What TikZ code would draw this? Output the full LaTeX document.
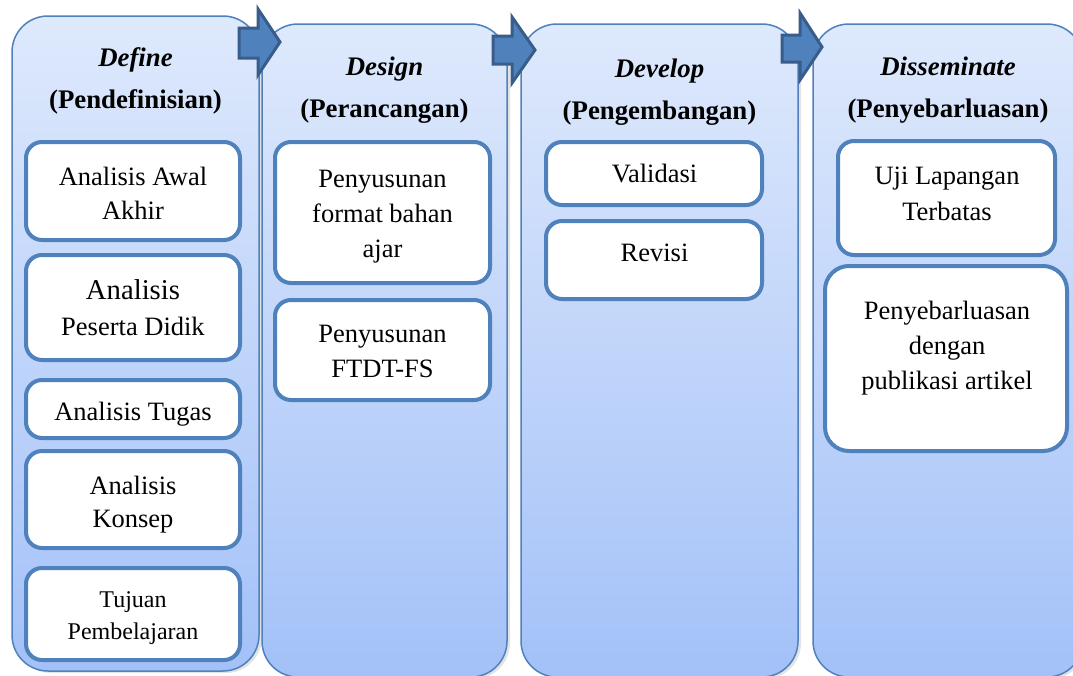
\documentclass[tikz,border=0pt]{standalone}
\usepackage{fontspec}
\setmainfont{Liberation Serif}
\usetikzlibrary{shadows}
\definecolor{bblue}{RGB}{79,129,189}
\definecolor{adark}{RGB}{56,93,138}
\definecolor{ctop}{RGB}{222,233,252}
\definecolor{cbot}{RGB}{163,193,248}
\begin{document}
\begin{tikzpicture}[x=1pt,y=-1pt,
  col/.style={draw=bblue, line width=1.5pt, rounded corners=36pt,
    top color=ctop, bottom color=cbot,
    drop shadow={shadow xshift=3pt, shadow yshift=-2pt, opacity=0.22},
    inner sep=0pt},
  item/.style={draw=bblue, line width=4pt, fill=white, rounded corners=16pt, inner sep=0pt},
  itxt/.style={align=center, inner sep=0pt, font=\fontsize{26.5}{35}\selectfont,
    execute at begin node=\strut, execute at end node=\strut},
  ttl/.style={align=center, inner sep=0pt, font=\fontsize{26.8}{42}\selectfont\bfseries,
    execute at begin node=\strut, execute at end node=\strut},
  blockarrow/.style={fill=bblue, draw=adark, line width=3pt, line join=miter}]
\clip (0,0) rectangle (1073,675);
\fill[white] (0,0) rectangle (1073,675);

% columns
\node[col, minimum width=247pt, minimum height=655pt] (c1) at (135.5,343.5) {};
\node[col, minimum width=245pt, minimum height=653pt] (c2) at (384.5,350.5) {};
\node[col, minimum width=277pt, minimum height=653pt] (c3) at (659.5,350.5) {};
\node[col, minimum width=270pt, minimum height=653pt] (c4) at (948,350.5) {};

% titles
\node[ttl] (t1) at (135.5,84.5) {\itshape Define\\(Pendefinisian)};
\node[ttl] (t2) at (384.5,93.5) {\itshape Design\\(Perancangan)};
\node[ttl] (t3) at (659.5,95) {\itshape Develop\\(Pengembangan)};
\node[ttl] (t4) at (948,93.5) {\itshape Disseminate\\(Penyebarluasan)};

% Define boxes
\node[item, minimum width=214pt, minimum height=98pt] (a1) at (133,191) {};
\node[item, minimum width=214pt, minimum height=105pt] (a2) at (133,307.5) {};
\node[item, minimum width=214pt, minimum height=58pt] (a3) at (133,409) {};
\node[item, minimum width=214pt, minimum height=97pt] (a4) at (133,499.5) {};
\node[item, minimum width=214pt, minimum height=92pt] (a5) at (133,614) {};
\node[itxt, font=\fontsize{26.5}{34}\selectfont] (a1t) at (133,198) {Analisis Awal\\Akhir};
\node[itxt, font=\fontsize{26.5}{36}\selectfont] (a2t) at (133,312.5) {{\fontsize{28.7}{36}\selectfont Analisis}\\Peserta Didik};
\node[itxt] (a3t) at (133,413) {Analisis Tugas};
\node[itxt, font=\fontsize{26.5}{33}\selectfont] (a4t) at (133,506.5) {Analisis\\Konsep};
\node[itxt, font=\fontsize{24}{32}\selectfont] (a5t) at (133,620.8) {Tujuan\\Pembelajaran};

% Design boxes
\node[item, minimum width=215pt, minimum height=141pt] (d1) at (382.5,212.5) {};
\node[item, minimum width=215pt, minimum height=100pt] (d2) at (382.5,350) {};
\node[itxt] (d1t) at (382.5,219.5) {Penyusunan\\format bahan\\ajar};
\node[itxt] (d2t) at (382.5,357) {Penyusunan\\FTDT-FS};

% Develop boxes
\node[item, minimum width=216pt, minimum height=63pt] (v1) at (654,173.5) {};
\node[item, minimum width=216pt, minimum height=78pt] (v2) at (654,260) {};
\node[itxt] (v1t) at (654.5,175.5) {Validasi};
\node[itxt] (v2t) at (654.5,254.5) {Revisi};

% Disseminate boxes
\node[item, minimum width=217pt, minimum height=114pt] (u1) at (946.5,198) {};
\node[item, minimum width=242pt, minimum height=185pt, rounded corners=24pt] (u2) at (946,358.5) {};
\node[itxt, font=\fontsize{26.5}{36}\selectfont] (u1t) at (947,199.5) {Uji Lapangan\\Terbatas};
\node[itxt] (u2t) at (947,350.5) {Penyebarluasan\\dengan\\publikasi artikel};

% block arrows between phases
\draw[blockarrow] (239,28) -- (258,28) -- (258,9) -- (280,42) -- (258,75) -- (258,58) -- (239,58) -- cycle;
\draw[blockarrow] (493,36) -- (512,36) -- (512,17) -- (535,50) -- (512,83) -- (512,64) -- (493,64) -- cycle;
\draw[blockarrow] (782,35) -- (800,35) -- (800,13) -- (822,47) -- (800,80) -- (800,62) -- (782,62) -- cycle;
\end{tikzpicture}
\end{document}
